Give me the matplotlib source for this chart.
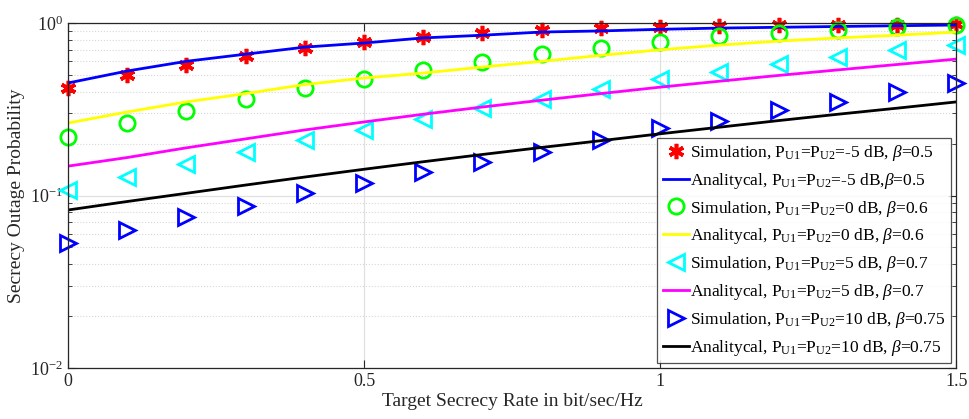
import numpy as np
import matplotlib
matplotlib.use("Agg")
import matplotlib.pyplot as plt

plt.rcParams['font.family'] = ['Liberation Serif', 'DejaVu Serif']
plt.rcParams['mathtext.fontset'] = 'custom'
plt.rcParams['mathtext.rm'] = 'Liberation Serif'
plt.rcParams['mathtext.it'] = 'Liberation Serif:italic'

# target secrecy rate (bit/sec/Hz)
rate = [0.0, 0.1, 0.2, 0.3, 0.4, 0.5, 0.6, 0.7, 0.8, 0.9, 1.0, 1.1, 1.2, 1.3, 1.4, 1.5]

# P = -5 dB, beta = 0.5
sim_m5 = [0.42, 0.50, 0.57, 0.644, 0.716, 0.776, 0.83, 0.875, 0.911, 0.935, 0.95, 0.96, 0.97, 0.975, 0.98, 0.985]
ana_m5 = [0.449, 0.527, 0.60, 0.66, 0.725, 0.766, 0.82, 0.85, 0.887, 0.90, 0.92, 0.935, 0.945, 0.955, 0.965, 0.974]

# P = 0 dB, beta = 0.6
sim_0 = [0.218, 0.263, 0.309, 0.363, 0.42, 0.474, 0.534, 0.594, 0.66, 0.716, 0.776, 0.84, 0.875, 0.91, 0.95, 0.97]
ana_0 = [0.263, 0.305, 0.349, 0.39, 0.44, 0.48, 0.513, 0.556, 0.60, 0.65, 0.70, 0.745, 0.786, 0.82, 0.85, 0.887]

# P = 5 dB, beta = 0.7
sim_5 = [0.108, 0.128, 0.152, 0.179, 0.21, 0.24, 0.278, 0.321, 0.363, 0.414, 0.474, 0.52, 0.578, 0.635, 0.70, 0.746]
ana_5 = [0.148, 0.166, 0.189, 0.213, 0.24, 0.267, 0.296, 0.326, 0.357, 0.39, 0.425, 0.46, 0.497, 0.535, 0.575, 0.618]

# P = 10 dB, beta = 0.75
sim_10 = [0.053, 0.063, 0.075, 0.087, 0.103, 0.118, 0.137, 0.157, 0.179, 0.21, 0.246, 0.27, 0.313, 0.348, 0.40, 0.449]
ana_10 = [0.0824, 0.0923, 0.103, 0.115, 0.128, 0.142, 0.157, 0.173, 0.190, 0.208, 0.228, 0.249, 0.272, 0.296, 0.321, 0.349]

x_ticks = [0, 0.5, 1, 1.5]
x_tick_labels = ['0', '0.5', '1', '1.5']


def label(kind, p, beta, gap=' '):
    return kind + r', P$_{\mathrm{U1}}$=P$_{\mathrm{U2}}$=' + p + ' dB,' + gap + r'$\beta$=' + beta


fig = plt.figure(figsize=(9.69, 4.19), dpi=100)
ax = fig.add_axes([0.070, 0.1217, 0.917, 0.8233])

ax.plot(rate, sim_m5, ls='none', marker=(6, 2, 0), ms=11, mew=2.6, color='red',
        clip_on=False, label=label('Simulation', '-5', '0.5'))
ax.plot(rate, ana_m5, color='#0000ff', lw=2, label=label('Analitycal', '-5', '0.5', gap=''))
ax.plot(rate, sim_0, ls='none', marker='o', ms=11, mfc='none', mew=2, color='#00ff00',
        clip_on=False, label=label('Simulation', '0', '0.6'))
ax.plot(rate, ana_0, color='#ffff00', lw=2, label=label('Analitycal', '0', '0.6'))
ax.plot(rate, sim_5, ls='none', marker='<', ms=12, mfc='none', mew=2, color='#00ffff',
        clip_on=False, label=label('Simulation', '5', '0.7'))
ax.plot(rate, ana_5, color='#ff00ff', lw=2, label=label('Analitycal', '5', '0.7'))
ax.plot(rate, sim_10, ls='none', marker='>', ms=12, mfc='none', mew=2, color='#0000ff',
        clip_on=False, label=label('Simulation', '10', '0.75'))
ax.plot(rate, ana_10, color='black', lw=2, label=label('Analitycal', '10', '0.75'))

ax.set_yscale('log')
ax.set_xlim(0, 1.5)
ax.set_ylim(1e-2, 1)
ax.set_xticks(x_ticks)
ax.set_xticklabels(x_tick_labels)

ax.grid(True, which='major', color='#e0e0e0', lw=0.9)
ax.grid(True, which='minor', axis='y', color='#d8d8d8', ls=':', lw=0.8)
ax.set_axisbelow(True)
ax.tick_params(which='both', direction='in', top=True, right=True, labelsize=13, colors='#262626')
ax.tick_params(which='major', length=6)
ax.tick_params(which='minor', length=3)
for s in ax.spines.values():
    s.set_color('#262626')
    s.set_linewidth(0.9)

ax.set_xlabel('Target Secrecy Rate in bit/sec/Hz', fontsize=14, color='#262626', labelpad=2)
ax.set_ylabel('Secrecy Outage Probability', fontsize=14, color='#262626', labelpad=4)

leg = ax.legend(loc='lower right', fontsize=12.5, frameon=True, fancybox=False,
                edgecolor='#262626', handlelength=1.5, handletextpad=0.1,
                borderaxespad=0.3, labelspacing=0.45, borderpad=0.3)
leg.get_frame().set_linewidth(0.9)
leg.set_zorder(5)

fig.savefig('out.png', dpi=100)
